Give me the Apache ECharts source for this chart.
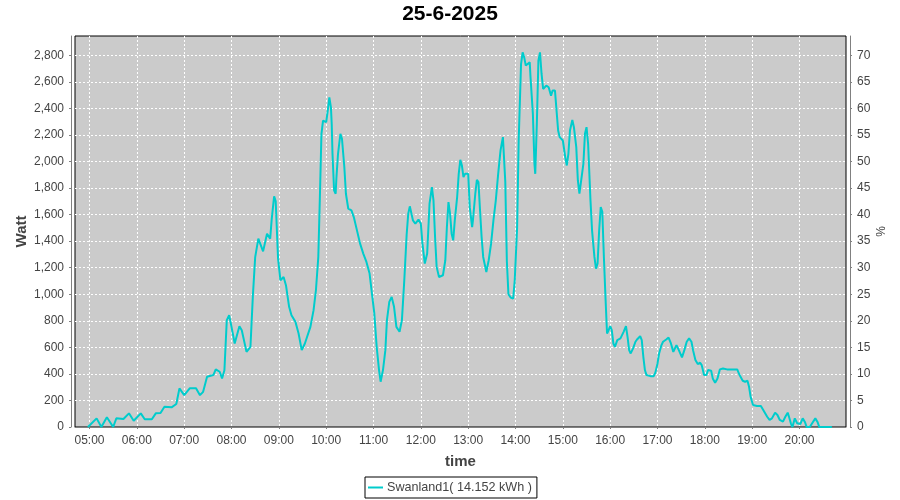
<!DOCTYPE html>
<html>
<head>
<meta charset="utf-8">
<script src="https://cdn.jsdelivr.net/npm/echarts@6/dist/echarts.min.js"></script>
<style>html,body{margin:0;padding:0;background:#fff}#c{width:900px;height:500px}</style>
</head>
<body>
<div id="c"></div>
<script>
const titleText = '25-6-2025';
const seriesName = 'Swanland1( 14.152 kWh )';
const dateStr = '2025-06-25';
const xRange = ['04:41:36', '20:58:54'];
const wattMax = 2945;
const capacityW = 4000; // % axis = watt / capacity
const times = ['04:58','05:09','05:15','05:22','05:30','05:34','05:43','05:50','05:56','06:05','06:10','06:19','06:24','06:30','06:35','06:44','06:50','06:54','07:00','07:07','07:15','07:20','07:24','07:29','07:37','07:40','07:45','07:48','07:51','07:54','07:57','08:00','08:04','08:10','08:13','08:19','08:24','08:27','08:30','08:34','08:40','08:45','08:49','08:51','08:54','08:56','08:59','09:02','09:06','09:09','09:13','09:16','09:21','09:25','09:29','09:33','09:40','09:44','09:47','09:50','09:52','09:54','09:56','10:00','10:02','10:04','10:06','10:07','10:08','10:10','10:12','10:13','10:15','10:18','10:20','10:23','10:25','10:28','10:32','10:35','10:39','10:43','10:47','10:51','10:55','10:58','11:01','11:04','11:07','11:09','11:12','11:15','11:17','11:20','11:23','11:26','11:29','11:33','11:36','11:39','11:42','11:44','11:46','11:50','11:53','11:57','12:00','12:02','12:05','12:08','12:11','12:14','12:16','12:18','12:20','12:23','12:28','12:31','12:33','12:35','12:37','12:39','12:41','12:43','12:46','12:48','12:50','12:52','12:54','12:56','12:58','13:00','13:02','13:05','13:06','13:09','13:11','13:13','13:15','13:17','13:19','13:23','13:26','13:29','13:32','13:35','13:38','13:41','13:44','13:47','13:49','13:51','13:54','13:57','13:59','14:02','14:04','14:07','14:09','14:11','14:13','14:15','14:18','14:19','14:22','14:24','14:25','14:27','14:29','14:31','14:33','14:35','14:39','14:42','14:45','14:47','14:50','14:52','14:54','14:56','15:00','15:03','15:05','15:07','15:09','15:12','15:14','15:17','15:19','15:21','15:23','15:26','15:28','15:30','15:32','15:35','15:37','15:40','15:42','15:44','15:46','15:48','15:50','15:52','15:54','15:56','15:58','16:00','16:02','16:04','16:06','16:09','16:13','16:15','16:17','16:20','16:22','16:24','16:26','16:29','16:32','16:34','16:38','16:40','16:42','16:44','16:46','16:51','16:55','16:57','17:00','17:02','17:05','17:07','17:11','17:14','17:17','17:20','17:22','17:24','17:27','17:31','17:34','17:37','17:40','17:43','17:45','17:48','17:51','17:54','17:56','17:59','18:02','18:04','18:08','18:10','18:13','18:16','18:19','18:23','18:28','18:34','18:41','18:44','18:48','18:51','18:54','18:56','18:58','19:01','19:06','19:11','19:14','19:19','19:22','19:25','19:29','19:32','19:35','19:39','19:42','19:45','19:47','19:49','19:51','19:54','19:57','20:01','20:04','20:07','20:09','20:13','20:16','20:20','20:23','20:25','20:30','20:41'];
const watts = [0,65,0,73,0,65,60,103,47,103,58,58,103,105,153,148,173,291,240,291,291,240,265,378,391,434,416,366,428,805,842,754,629,759,729,566,604,980,1280,1419,1323,1456,1419,1569,1737,1700,1268,1105,1130,1068,905,842,792,704,579,629,754,880,1030,1280,1732,2208,2308,2296,2383,2483,2408,2283,2058,1782,1757,1882,2058,2208,2171,1958,1757,1644,1632,1581,1481,1381,1306,1243,1156,1005,855,604,429,341,429,579,805,942,980,905,754,717,805,1105,1450,1607,1662,1556,1531,1562,1531,1381,1231,1306,1682,1807,1707,1431,1206,1130,1143,1256,1506,1694,1607,1456,1406,1556,1732,1907,2012,1970,1882,1907,1895,1907,1656,1506,1556,1757,1862,1845,1632,1431,1281,1168,1256,1381,1556,1707,1907,2083,2183,1850,1250,1000,975,967,1105,1500,2158,2734,2822,2784,2722,2734,2747,2634,2358,1982,1907,2283,2759,2822,2659,2546,2571,2559,2496,2534,2534,2383,2233,2183,2158,2033,1970,2058,2233,2313,2258,2108,1857,1757,1757,1982,2208,2258,2133,1707,1481,1281,1193,1231,1481,1656,1620,1281,980,704,729,759,729,629,604,654,667,654,717,759,679,579,554,592,642,659,684,654,529,429,391,383,383,404,479,554,617,642,659,674,629,566,579,617,579,524,579,642,667,642,579,504,474,484,466,391,391,429,424,366,333,366,434,441,434,434,434,391,348,341,348,303,228,165,158,158,128,77,53,65,108,90,53,40,77,108,70,28,0,65,28,22,65,35,0,0,28,65,35,0,0,0];

function toTs(t) {
  const p = t.split(':').map(Number);
  const d = dateStr.split('-').map(Number);
  return new Date(d[0], d[1] - 1, d[2], p[0], p[1], p[2] || 0).getTime();
}
const data = times.map((t, i) => [toTs(t), watts[i]]);

const font = 'Liberation Sans, Arial, sans-serif';
const axisGray = '#808080';
const labelColor = '#444444';
const gridLine = {show: true, showMinLine: false, showMaxLine: false, lineStyle: {color: '#ffffff', type: [2, 2], width: 1}};

const chart = echarts.init(document.getElementById('c'), null, {renderer: 'canvas'});
chart.setOption({
  animation: false,
  backgroundColor: '#ffffff',
  title: {
    text: titleText, left: 'center', top: -1,
    textStyle: {fontFamily: font, fontWeight: 'bold', fontSize: 21, color: '#000'}
  },
  legend: {
    left: 365, top: 477, orient: 'horizontal',
    backgroundColor: '#fff', borderColor: '#000', borderWidth: 1,
    padding: [4, 5, 4, 3], itemWidth: 15, itemHeight: 2, itemGap: 4,
    icon: 'rect', selectedMode: false,
    textStyle: {fontFamily: font, fontSize: 12.6, color: labelColor, padding: [0, 0, 0, -1]},
    data: [seriesName]
  },
  grid: {
    left: 75, right: 54, top: 36, bottom: 73,
    show: true, backgroundColor: '#cbcbcb', borderColor: '#000', borderWidth: 1
  },
  xAxis: {
    type: 'time', min: toTs(xRange[0]), max: toTs(xRange[1]),
    minInterval: 3600 * 1000, maxInterval: 3600 * 1000, splitNumber: 16,
    offset: 4,
    name: 'time', nameLocation: 'middle', nameGap: 23,
    nameTextStyle: {fontFamily: font, fontWeight: 'bold', fontSize: 15, color: labelColor},
    axisLine: {show: true, lineStyle: {color: axisGray, width: 1}},
    axisTick: {show: true, length: 2, lineStyle: {color: axisGray}},
    axisLabel: {formatter: '{HH}:{mm}', fontFamily: font, fontSize: 12, color: labelColor, margin: 4, hideOverlap: false},
    splitLine: gridLine
  },
  yAxis: [{
    type: 'value', min: 0, max: wattMax, interval: 200, position: 'left', offset: 4,
    name: 'Watt', nameLocation: 'middle', nameGap: 42, nameMoveOverlap: false,
    nameTextStyle: {fontFamily: font, fontWeight: 'bold', fontSize: 15, color: labelColor},
    axisLine: {show: true, lineStyle: {color: axisGray, width: 1}},
    axisTick: {show: true, length: 2, lineStyle: {color: axisGray}},
    axisLabel: {fontFamily: font, fontSize: 12, color: labelColor, margin: 7, showMaxLabel: false,
      formatter: v => v.toLocaleString('en-US')},
    splitLine: gridLine
  }, {
    type: 'value', min: 0, max: wattMax / capacityW * 100, interval: 5, position: 'right', offset: 4,
    name: '%', nameLocation: 'middle', nameGap: 26, nameRotate: 90, nameMoveOverlap: false,
    nameTextStyle: {fontFamily: font, fontSize: 12, color: labelColor},
    axisLine: {show: true, lineStyle: {color: axisGray, width: 1}},
    axisTick: {show: true, length: 2, lineStyle: {color: axisGray}},
    axisLabel: {fontFamily: font, fontSize: 12, color: labelColor, margin: 7, showMaxLabel: false},
    splitLine: {show: false}
  }],
  series: [{
    name: seriesName, type: 'line', yAxisIndex: 0, data: data,
    showSymbol: false, symbol: 'none', smooth: false,
    lineStyle: {color: '#00cccc', width: 2}, itemStyle: {color: '#00cccc'}
  }]
});
</script>
</body>
</html>
